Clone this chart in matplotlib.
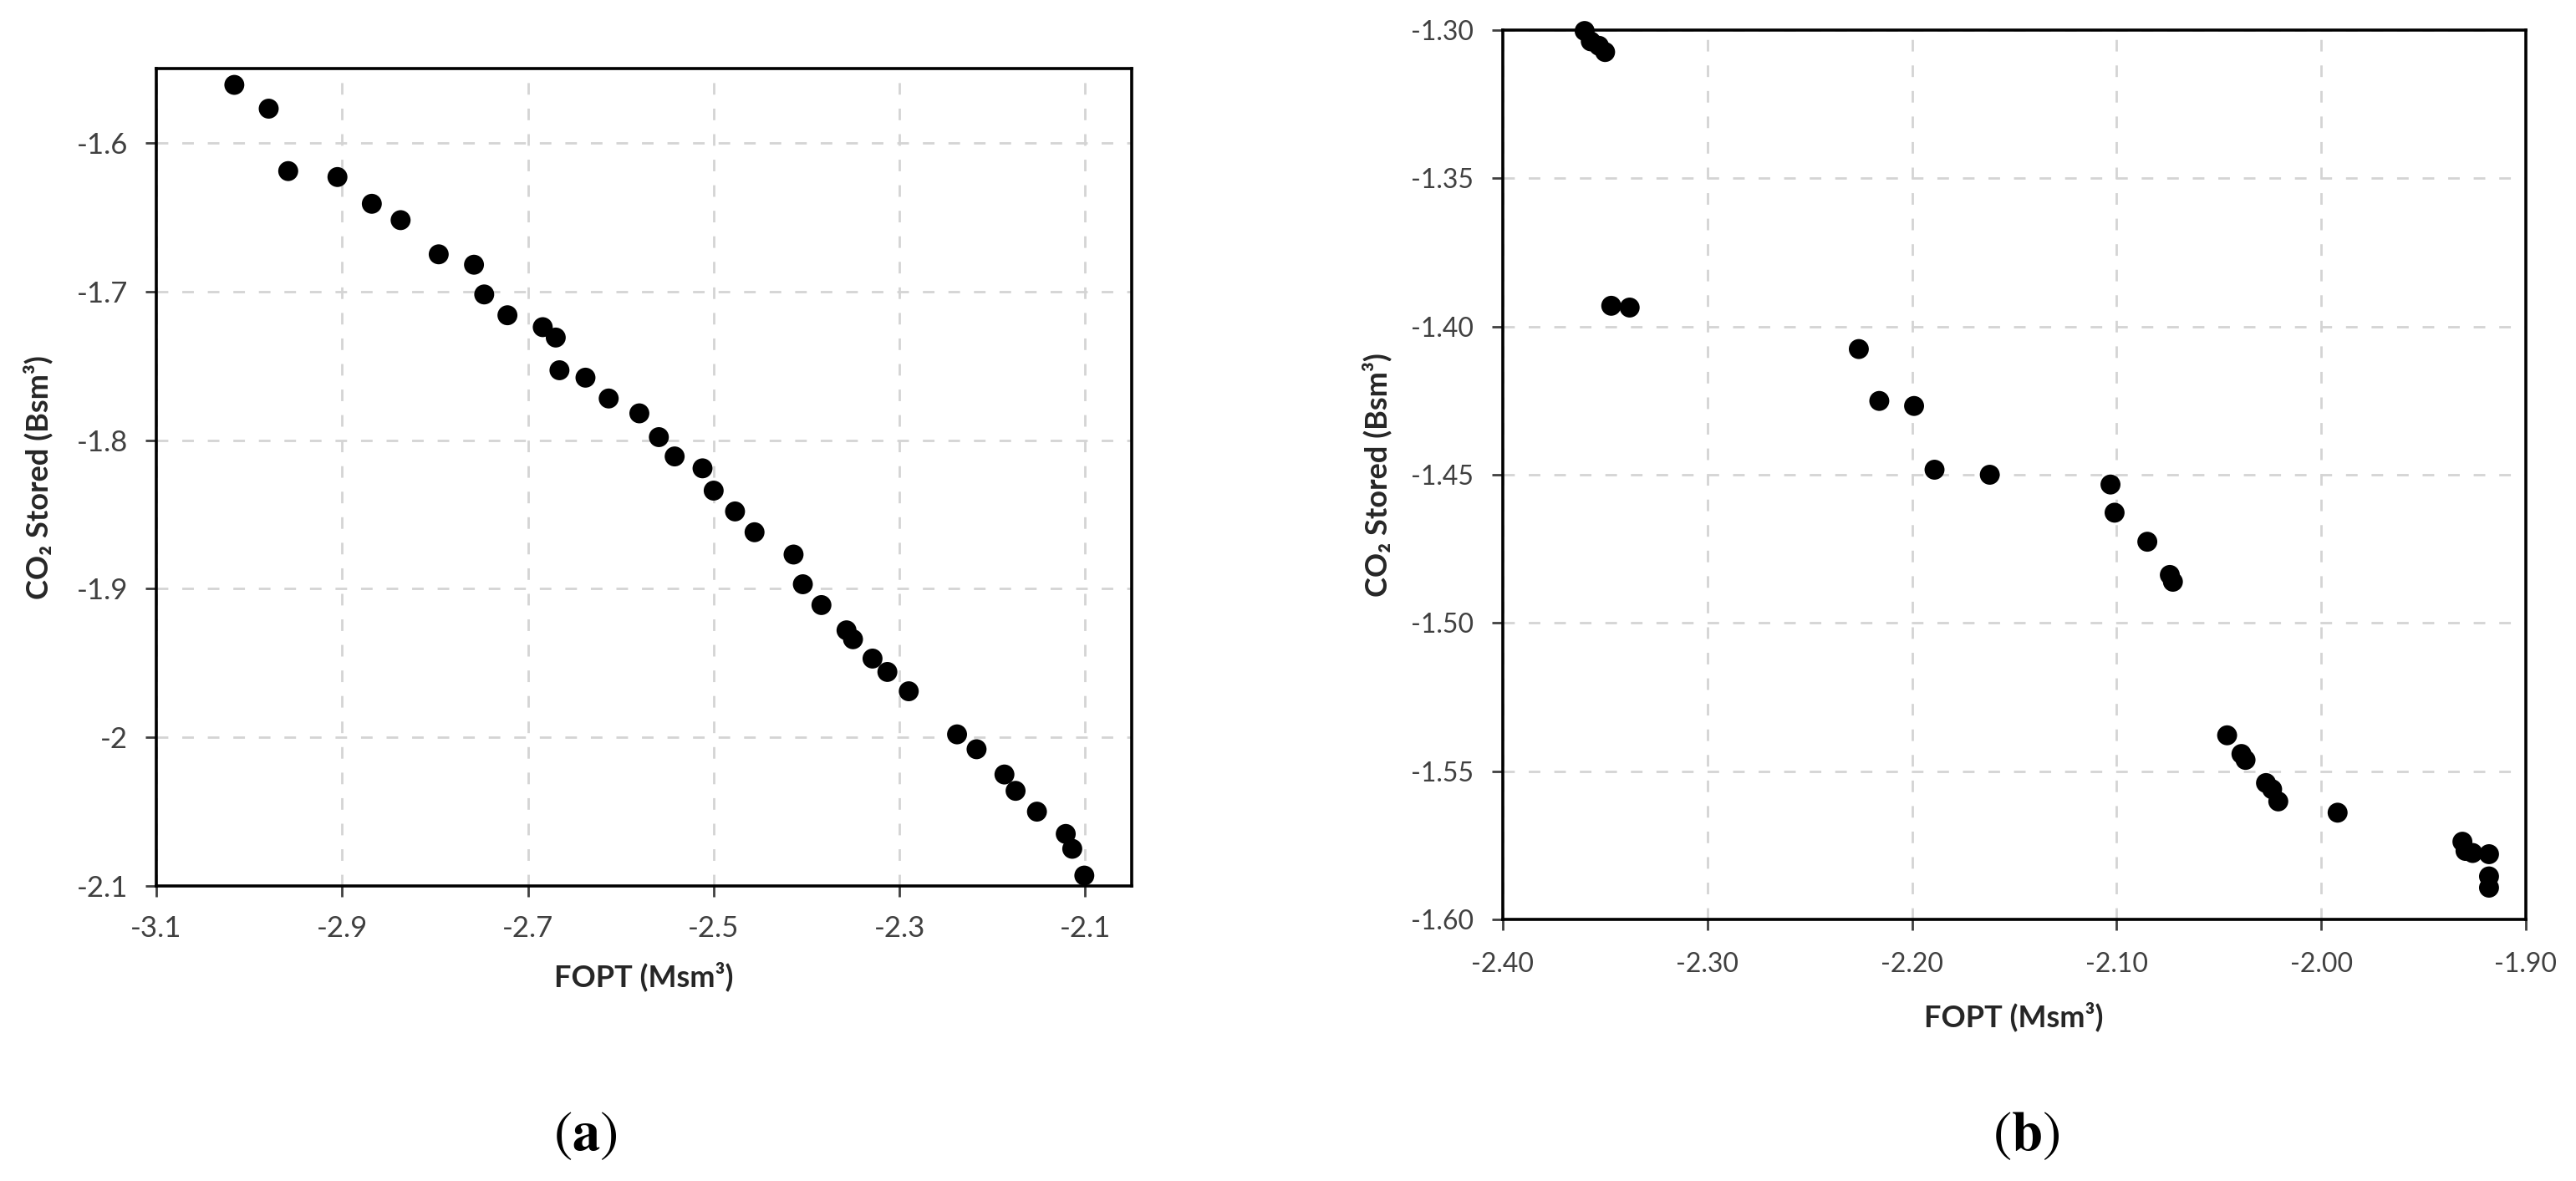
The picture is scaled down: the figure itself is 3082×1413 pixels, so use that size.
import matplotlib
matplotlib.use("Agg")
import matplotlib.pyplot as plt

# ---------------- data ----------------
# Panel (a)
a_fopt = [-3.016, -2.979, -2.958, -2.905, -2.868, -2.837, -2.796, -2.758, -2.747,
          -2.722, -2.684, -2.670, -2.666, -2.638, -2.613, -2.580, -2.559, -2.542,
          -2.512, -2.500, -2.477, -2.456, -2.414, -2.404, -2.384, -2.357, -2.350,
          -2.329, -2.313, -2.290, -2.238, -2.217, -2.187, -2.175, -2.152, -2.121,
          -2.114, -2.101]
a_co2 = [-1.561, -1.577, -1.619, -1.623, -1.641, -1.652, -1.675, -1.682, -1.702,
         -1.716, -1.724, -1.731, -1.753, -1.758, -1.772, -1.782, -1.798, -1.811,
         -1.819, -1.834, -1.848, -1.862, -1.877, -1.897, -1.911, -1.928, -1.934,
         -1.947, -1.956, -1.969, -1.998, -2.008, -2.025, -2.036, -2.050, -2.065,
         -2.075, -2.093]

# Panel (b)
b_fopt = [-2.360, -2.357, -2.353, -2.350, -2.347, -2.338, -2.226, -2.216, -2.199,
          -2.189, -2.162, -2.103, -2.101, -2.085, -2.074, -2.0725, -2.046, -2.039,
          -2.037, -2.027, -2.024, -2.021, -1.992, -1.931, -1.9295, -1.926, -1.918,
          -1.918, -1.918]
b_co2 = [-1.3003, -1.3038, -1.3053, -1.3074, -1.3930, -1.3936, -1.4076, -1.4251,
         -1.4268, -1.4483, -1.4500, -1.4533, -1.4628, -1.4726, -1.4838, -1.4861,
         -1.5379, -1.5442, -1.5462, -1.5540, -1.5561, -1.5602, -1.5640, -1.5738,
         -1.5769, -1.5776, -1.5780, -1.5855, -1.5893]

a_xticks = [-3.1, -2.9, -2.7, -2.5, -2.3, -2.1]
a_xticklabels = ["-3.1", "-2.9", "-2.7", "-2.5", "-2.3", "-2.1"]
a_yticks = [-1.6, -1.7, -1.8, -1.9, -2.0, -2.1]
a_yticklabels = ["-1.6", "-1.7", "-1.8", "-1.9", "-2", "-2.1"]

b_xticks = [-2.40, -2.30, -2.20, -2.10, -2.00, -1.90]
b_xticklabels = ["-2.40", "-2.30", "-2.20", "-2.10", "-2.00", "-1.90"]
b_yticks = [-1.30, -1.35, -1.40, -1.45, -1.50, -1.55, -1.60]
b_yticklabels = ["-1.30", "-1.35", "-1.40", "-1.45", "-1.50", "-1.55", "-1.60"]

xlabel_text = "FOPT (Msm³)"
ylabel_text = "CO₂ Stored (Bsm³)"

# ---------------- style ----------------
plt.rcParams["mathtext.fontset"] = "stix"
SANS = ["Lato", "DejaVu Sans"]
TICK_C = "#404040"
LABEL_C = "#262626"
GRID_C = "#d4d4d4"

W, H = 3082, 1413
DPI = 200
fig = plt.figure(figsize=(W / DPI, H / DPI), dpi=DPI)


def frac(l, t, r, b):
    return [l / W, 1 - b / H, (r - l) / W, (b - t) / H]


axa = fig.add_axes(frac(187, 82, 1354, 1060))
axb = fig.add_axes(frac(1798, 36, 3022, 1100))


def style(ax, tsize, xpad, ypad):
    ax.set_axisbelow(True)
    ax.grid(True, color=GRID_C, lw=1.0, linestyle=(0, (5, 6)))
    for s in ax.spines.values():
        s.set_color("black")
        s.set_linewidth(1.3)
    ax.tick_params(axis="both", direction="out", length=4.7, width=1.0,
                   color=TICK_C, labelcolor=TICK_C)
    ax.tick_params(axis="x", pad=xpad)
    ax.tick_params(axis="y", pad=ypad)
    for lab in ax.get_xticklabels() + ax.get_yticklabels():
        lab.set_family(SANS)
        lab.set_fontsize(tsize)


# Panel (a)
axa.scatter(a_fopt, a_co2, s=8.6 ** 2, c="black", edgecolors="none",
            clip_on=False, zorder=3)
axa.set_xlim(-3.1, -2.05)
axa.set_ylim(-2.1, -1.55)
axa.set_xticks(a_xticks)
axa.set_xticklabels(a_xticklabels)
axa.set_yticks(a_yticks)
axa.set_yticklabels(a_yticklabels)
style(axa, 12.5, 8.0, 7.5)

# Panel (b)
axb.scatter(b_fopt, b_co2, s=8.6 ** 2, c="black", edgecolors="none",
            clip_on=False, zorder=3)
axb.set_xlim(-2.40, -1.90)
axb.set_ylim(-1.60, -1.30)
axb.set_xticks(b_xticks)
axb.set_xticklabels(b_xticklabels)
axb.set_yticks(b_yticks)
axb.set_yticklabels(b_yticklabels)
style(axb, 11.5, 9.5, 7.9)

# axis titles
fig.text(770 / W, 1 - 1168 / H, xlabel_text, ha="center", va="center",
         family=SANS, fontsize=13, fontweight="bold", color=LABEL_C)
fig.text(45 / W, 1 - 571 / H, ylabel_text, ha="center", va="center",
         rotation=90, family=SANS, fontsize=13, fontweight="bold", color=LABEL_C)
fig.text(2409 / W, 1 - 1216 / H, xlabel_text, ha="center", va="center",
         family=SANS, fontsize=13, fontweight="bold", color=LABEL_C)
fig.text(1647 / W, 1 - 568 / H, ylabel_text, ha="center", va="center",
         rotation=90, family=SANS, fontsize=13, fontweight="bold", color=LABEL_C)

# panel letters
fig.text(700 / W, 1 - 1357 / H, r"$(\mathbf{a})$", ha="center", va="center",
         fontsize=24, color="black")
fig.text(2424 / W, 1 - 1357 / H, r"$(\mathbf{b})$", ha="center", va="center",
         fontsize=24, color="black")

fig.savefig("out.png", dpi=DPI)
